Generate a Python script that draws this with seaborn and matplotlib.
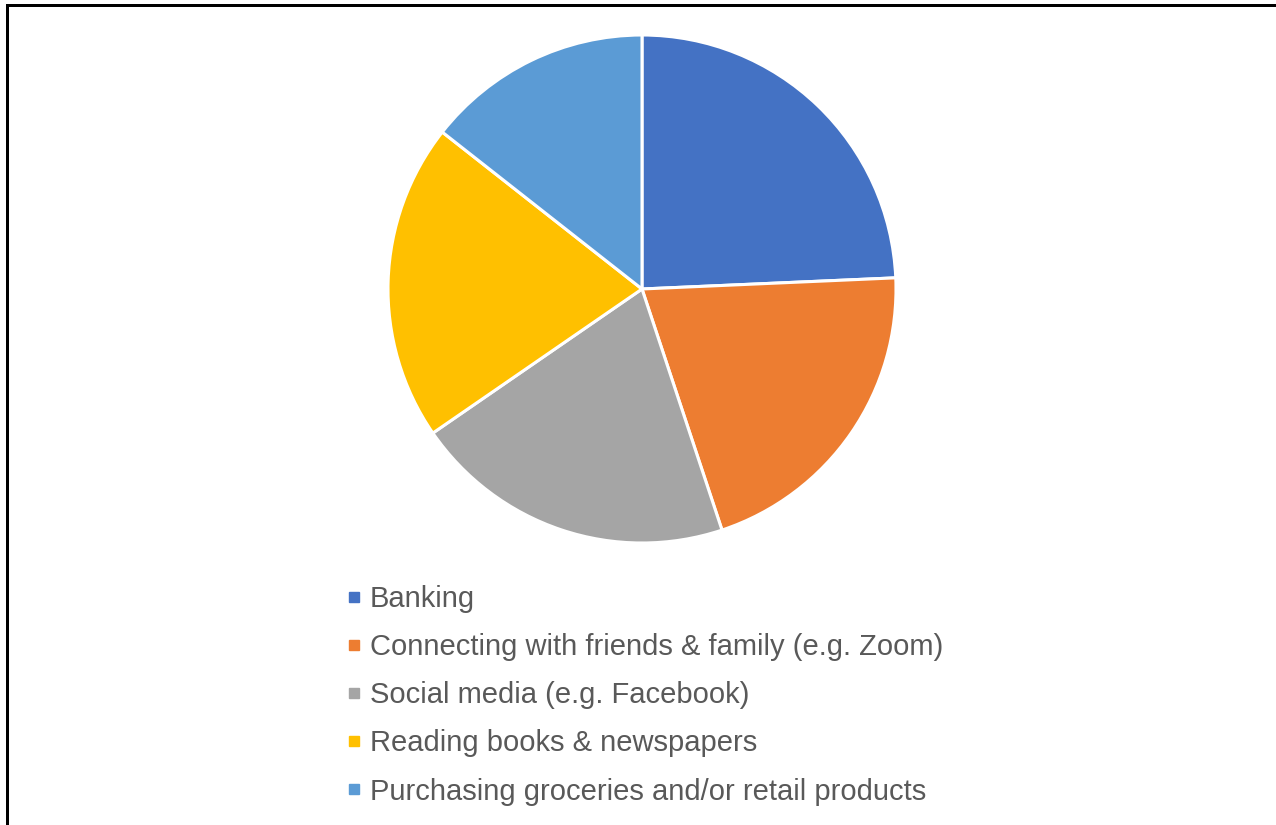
import matplotlib
matplotlib.use("Agg")
import matplotlib.pyplot as plt
from matplotlib.lines import Line2D
import seaborn as sns

# Share of respondents by online activity
activities = [
    "Banking",
    "Connecting with friends & family (e.g. Zoom)",
    "Social media (e.g. Facebook)",
    "Reading books & newspapers",
    "Purchasing groceries and/or retail products",
]
shares = [24.3, 20.6, 20.5, 20.2, 14.4]
colors = ["#4472C4", "#ED7D31", "#A5A5A5", "#FFC000", "#5B9BD5"]

sns.set_theme(style="white")
plt.rcParams["font.family"] = ["Liberation Sans", "DejaVu Sans"]

W, H, DPI = 1276, 825, 100
fig = plt.figure(figsize=(W / DPI, H / DPI), dpi=DPI)
fig.patch.set_facecolor("white")

# Pie axes: centre (642, 289) px, radius 254 px
cx, cy, r = 642, 289, 254
ax = fig.add_axes([(cx - r) / W, (H - cy - r) / H, 2 * r / W, 2 * r / H])
ax.pie(
    shares,
    colors=colors,
    startangle=90,
    counterclock=False,
    radius=1.0,
    wedgeprops=dict(edgecolor="white", linewidth=2.2),
)
ax.set_xlim(-1, 1)
ax.set_ylim(-1, 1)
ax.set_aspect("equal")
ax.axis("off")

# Legend with small square swatches
handles = [
    Line2D([0], [0], marker="s", linestyle="none", markersize=6.8,
           markerfacecolor=c, markeredgecolor=c)
    for c in colors
]
leg = fig.legend(
    handles, activities,
    loc="upper left",
    bbox_to_anchor=(346 / W, 1 - 585 / H),
    frameon=False,
    fontsize=21,
    labelcolor="#595959",
    handlelength=0.55,
    handletextpad=0.27,
    labelspacing=0.69,
    borderpad=0.0,
    borderaxespad=0.0,
)

# Frame lines along the top and left edges
lw = 3 * 72 / DPI
fig.add_artist(Line2D([7 / W, 7 / W], [0, 1 - 5 / H], color="black",
                      linewidth=lw, transform=fig.transFigure))
fig.add_artist(Line2D([7 / W, 1], [1 - 5 / H, 1 - 5 / H], color="black",
                      linewidth=lw, transform=fig.transFigure,
                      solid_capstyle="projecting"))

fig.savefig("out.png", dpi=DPI, facecolor="white")
